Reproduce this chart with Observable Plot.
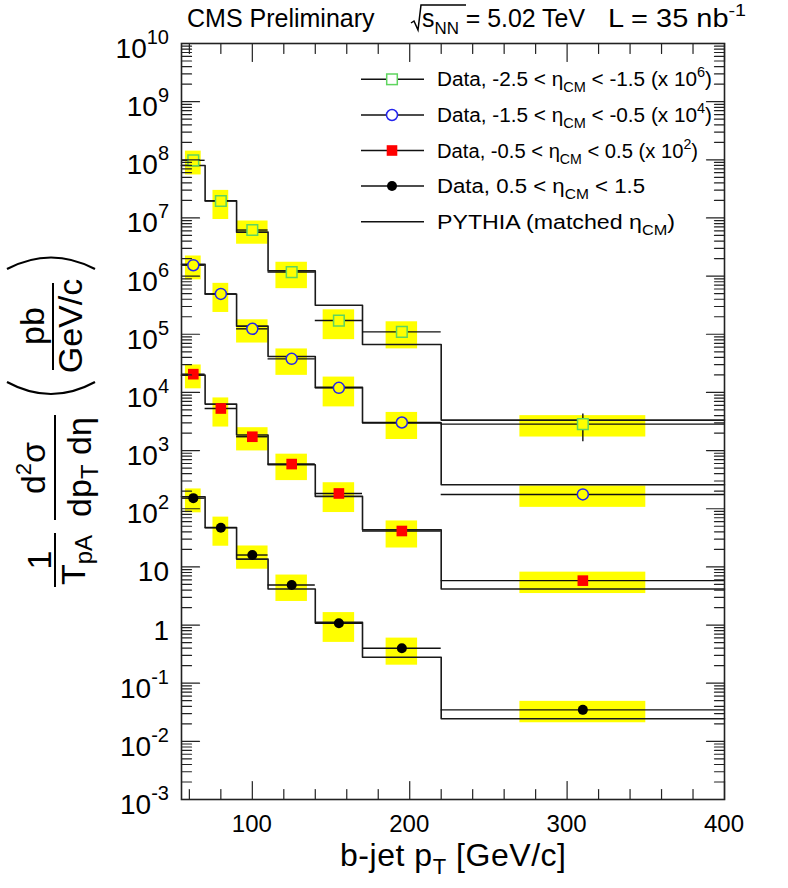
<!DOCTYPE html>
<html>
<head>
<meta charset="utf-8">
<script src="https://cdn.jsdelivr.net/npm/d3@7"></script>
<script src="https://cdn.jsdelivr.net/npm/@observablehq/plot@0.6"></script>
<style>
  html, body { margin: 0; padding: 0; background: #fff; }
  #chart { width: 788px; height: 888px; }
</style>
</head>
<body>
<div id="chart"></div>
<script>
// ---------------- data ----------------
const binLo = [55, 70, 90, 110, 140, 170, 220];
const binHi = [70, 90, 110, 140, 170, 220, 400];
const binCenter = [62.5, 80, 100, 125, 155, 195, 310];
const sysHalfWidth = [5, 5, 10, 10, 10, 10, 40];
const sysRel = [0.44, 0.52, 0.43, 0.48, 0.53, 0.49, 0.40];

const seriesKeys = ["m25", "m15", "m05", "p05"];

// measured cross sections (already multiplied by the scale factors)
const dataM25 = [9.8e7, 1.96e7, 6.2e6, 1.17e6, 1.72e5, 1.1e5, 2.85e3];
const dataM15 = [1.54e6, 4.94e5, 1.24e5, 3.78e4, 1.2e4, 3.04e3, 176];
const dataM05 = [2.06e4, 5.29e3, 1.73e3, 586, 183, 41.4, 5.8];
const dataP05 = [152, 47.2, 16.0, 4.89, 1.07, 0.40, 0.0348];

// relative statistical uncertainties
const statM25 = [0.03, 0.04, 0.05, 0.07, 0.12, 0.15, 0.5];
const statM15 = [0.02, 0.03, 0.04, 0.05, 0.07, 0.10, 0.18];
const statM05 = [0.02, 0.03, 0.04, 0.05, 0.07, 0.10, 0.18];
const statP05 = [0.02, 0.03, 0.04, 0.05, 0.07, 0.10, 0.18];

// PYTHIA histograms (matched eta_CM, same scale factors)
const mcM25 = [8.0e7, 1.98e7, 5.7e6, 1.23e6, 3.16e5, 6.66e4, 3.34e3];
const mcM15 = [1.6e6, 4.94e5, 1.38e5, 4.14e4, 1.22e4, 3.0e3, 258];
const mcM05 = [1.98e4, 6.3e3, 1.85e3, 570, 163, 43.5, 4.17];
const mcP05 = [161, 47.5, 13.6, 4.17, 1.11, 0.279, 0.0244];

const xMajorTicks = [100, 200, 300, 400];
const xMinorTicks = [60, 80, 120, 140, 160, 180, 220, 240, 260, 280, 320, 340, 360, 380];
const yDecades = [-3, -2, -1, 0, 1, 2, 3, 4, 5, 6, 7, 8, 9, 10];
const yMinorMantissas = [2, 3, 4, 5, 6, 7, 8, 9];

// ---------------- build tables ----------------
const dataVals = [dataM25, dataM15, dataM05, dataP05];
const statVals = [statM25, statM15, statM05, statP05];
const mcVals = [mcM25, mcM15, mcM05, mcP05];

const rows = [];
seriesKeys.forEach((k, s) => {
  dataVals[s].forEach((v, i) => {
    rows.push({
      k, v,
      lo: binLo[i], hi: binHi[i], c: binCenter[i],
      bx1: binCenter[i] - sysHalfWidth[i], bx2: binCenter[i] + sysHalfWidth[i],
      sLo: v * (1 - sysRel[i]), sHi: v * (1 + sysRel[i]),
      eLo: v * (1 - statVals[s][i]), eHi: v * (1 + statVals[s][i])
    });
  });
});
const mcPts = [];
seriesKeys.forEach((k, s) => {
  mcVals[s].forEach((v, i) => mcPts.push({k, x: binLo[i], y: v}));
  mcPts.push({k, x: binHi[binHi.length - 1], y: mcVals[s][mcVals[s].length - 1]});
});
const yMajor = yDecades.map(d => Math.pow(10, d));
const yMinor = [];
yDecades.slice(0, -1).forEach(d => yMinorMantissas.forEach(m => yMinor.push(m * Math.pow(10, d))));

const greenC = "#5fd55f", blueC = "#2424ee", redC = "#ff0000", yellowC = "#ffff00";
const FONT = "'Liberation Sans', Arial, Helvetica, sans-serif";
const tickShape = {draw(ctx, l) { ctx.moveTo(0, 0); ctx.lineTo(0, -l); }};
const tk = {stroke: "#222", strokeWidth: 1.2, anchor: "start", shape: tickShape};

const plot = Plot.plot({
  width: 788, height: 888,
  marginLeft: 181, marginRight: 64, marginTop: 43, marginBottom: 89,
  x: {domain: [55, 400], axis: null},
  y: {type: "log", domain: [1e-3, 1e10], axis: null},
  style: {fontFamily: FONT, background: "white"},
  marks: [
    Plot.rect(rows, {x1: "bx1", x2: "bx2", y1: "sLo", y2: "sHi", fill: yellowC}),
    Plot.line(mcPts, {x: "x", y: "y", z: "k", curve: "step-after", stroke: "#1a1a1a", strokeWidth: 1.6}),
    Plot.ruleY(rows, {y: "v", x1: "lo", x2: "hi", stroke: "#111", strokeWidth: 1.4}),
    Plot.ruleX(rows, {x: "c", y1: "eLo", y2: "eHi", stroke: "#111", strokeWidth: 1.4}),
    Plot.dot(rows.filter(d => d.k === "m25"), {x: "c", y: "v", symbol: "square", r: 6, stroke: greenC, strokeWidth: 1.5, fill: yellowC}),
    Plot.dot(rows.filter(d => d.k === "m15"), {x: "c", y: "v", symbol: "circle", r: 5.5, stroke: blueC, strokeWidth: 1.5, fill: yellowC}),
    Plot.dot(rows.filter(d => d.k === "m05"), {x: "c", y: "v", symbol: "square", r: 6, fill: redC, stroke: "none"}),
    Plot.dot(rows.filter(d => d.k === "p05"), {x: "c", y: "v", symbol: "circle", r: 5, fill: "black", stroke: "none"}),
    // inward ROOT-style ticks on all four sides
    Plot.vector(yMajor, {y: d => d, frameAnchor: "left", rotate: 90, length: 18, ...tk}),
    Plot.vector(yMinor, {y: d => d, frameAnchor: "left", rotate: 90, length: 10, ...tk}),
    Plot.vector(yMajor, {y: d => d, frameAnchor: "right", rotate: -90, length: 18, ...tk}),
    Plot.vector(yMinor, {y: d => d, frameAnchor: "right", rotate: -90, length: 10, ...tk}),
    Plot.vector(xMajorTicks, {x: d => d, frameAnchor: "bottom", rotate: 0, length: 18, ...tk}),
    Plot.vector(xMinorTicks, {x: d => d, frameAnchor: "bottom", rotate: 0, length: 10, ...tk}),
    Plot.vector(xMajorTicks, {x: d => d, frameAnchor: "top", rotate: 180, length: 18, ...tk}),
    Plot.vector(xMinorTicks, {x: d => d, frameAnchor: "top", rotate: 180, length: 10, ...tk}),
    Plot.frame({stroke: "#222", strokeWidth: 1.6})
  ]
});
document.getElementById("chart").appendChild(plot);

// ---------------- text, labels, legend ----------------
const svg = d3.select(plot);
const xs = plot.scale("x"), ys = plot.scale("y");
const g = svg.append("g").attr("font-family", FONT).attr("fill", "black").attr("text-anchor", "start");

// y tick labels
yDecades.forEach(d => {
  const py = ys.apply(Math.pow(10, d));
  const t = g.append("text").attr("x", 169).attr("y", py + 15).attr("text-anchor", "end").attr("font-size", 28);
  if (d === 0) t.text("1");
  else if (d === 1) t.text("10");
  else {
    t.append("tspan").text("10");
    t.append("tspan").attr("font-size", 20).attr("dy", -14).text(String(d));
  }
});
// x tick labels
xMajorTicks.forEach(v => {
  g.append("text").attr("x", xs.apply(v)).attr("y", 832).attr("text-anchor", "middle").attr("font-size", 24).text(String(v));
});
// x axis title
{
  const t = g.append("text").attr("x", 340).attr("y", 866).attr("font-size", 32)
    .attr("textLength", 226).attr("lengthAdjust", "spacing");
  t.append("tspan").text("b-jet p");
  t.append("tspan").attr("font-size", 22).attr("dy", 8).text("T");
  t.append("tspan").attr("dy", -8).text(" [GeV/c]");
}
// y axis title (rotated)
function rot(x, y) { return g.append("text").attr("transform", `translate(${x},${y}) rotate(-90)`).attr("text-anchor", "middle").attr("font-size", 34); }
function bar(x, y1, y2) { g.append("line").attr("x1", x).attr("x2", x).attr("y1", y1).attr("y2", y2).attr("stroke", "black").attr("stroke-width", 2); }
// 1 / T_pA
rot(51, 560).text("1");
bar(55, 533, 587);
{ const t = rot(85, 560); t.append("tspan").text("T"); t.append("tspan").attr("font-size", 24).attr("dy", 7).text("pA"); }
// d2sigma / dpT deta
{ const t = rot(45, 468); t.append("tspan").text("d"); t.append("tspan").attr("font-size", 22).attr("dy", -14).text("2"); t.append("tspan").attr("dy", 14).text("σ"); }
bar(55, 415, 520);
{ const t = rot(91, 467); t.append("tspan").text("dp"); t.append("tspan").attr("font-size", 24).attr("dy", 7).text("T"); t.append("tspan").attr("dy", -7).text(" dη"); }
// (pb / GeV/c)
rot(44, 326).text("pb");
bar(53, 283, 370);
rot(82, 326).text("GeV/c");
g.append("path").attr("d", "M7,269 Q51,246 95,269").attr("fill", "none").attr("stroke", "black").attr("stroke-width", 2.2);
g.append("path").attr("d", "M7,382 Q51,406 95,382").attr("fill", "none").attr("stroke", "black").attr("stroke-width", 2.2);

// header
g.append("text").attr("x", 187).attr("y", 27).attr("font-size", 25).text("CMS Preliminary");
g.append("path").attr("d", "M411,23 L414,21 L418,30 L421,5 L466,5").attr("fill", "none").attr("stroke", "black").attr("stroke-width", 1.5);
{
  const t = g.append("text").attr("x", 422).attr("y", 27).attr("font-size", 25)
    .attr("textLength", 163).attr("lengthAdjust", "spacingAndGlyphs");
  t.append("tspan").text("s");
  t.append("tspan").attr("font-size", 17).attr("dy", 7).text("NN");
  t.append("tspan").attr("dy", -7).text(" = 5.02 TeV");
}
{
  const t = g.append("text").attr("x", 608).attr("y", 27).attr("font-size", 25)
    .attr("textLength", 138).attr("lengthAdjust", "spacingAndGlyphs");
  t.append("tspan").text("L = 35 nb");
  t.append("tspan").attr("font-size", 17).attr("dy", -11).text("-1");
}

// legend
const legRows = [79.3, 115, 150.5, 186, 221.7];
const legWidths = [275, 275, 261, 208, 238];
const legText = [
  ["Data, -2.5 < η", "CM", " < -1.5 (x 10", "6", ")"],
  ["Data, -1.5 < η", "CM", " < -0.5 (x 10", "4", ")"],
  ["Data, -0.5 < η", "CM", " < 0.5 (x 10", "2", ")"],
  ["Data, 0.5 < η", "CM", " < 1.5"],
  ["PYTHIA (matched η", "CM", ")"]
];
legRows.forEach((ly, r) => {
  g.append("line").attr("x1", 361).attr("x2", 424).attr("y1", ly).attr("y2", ly).attr("stroke", "#111").attr("stroke-width", 1.5);
  const mx = 392;
  if (r === 0) g.append("rect").attr("x", mx - 5.3).attr("y", ly - 5.3).attr("width", 10.6).attr("height", 10.6).attr("fill", "white").attr("stroke", greenC).attr("stroke-width", 1.5);
  if (r === 1) g.append("circle").attr("cx", mx).attr("cy", ly).attr("r", 5.5).attr("fill", "white").attr("stroke", blueC).attr("stroke-width", 1.5);
  if (r === 2) g.append("rect").attr("x", mx - 5.3).attr("y", ly - 5.3).attr("width", 10.6).attr("height", 10.6).attr("fill", redC);
  if (r === 3) g.append("circle").attr("cx", mx).attr("cy", ly).attr("r", 5).attr("fill", "black");
  const parts = legText[r];
  const t = g.append("text").attr("x", 437).attr("y", ly + 7).attr("font-size", 20)
    .attr("textLength", legWidths[r]).attr("lengthAdjust", "spacingAndGlyphs");
  t.append("tspan").text(parts[0]);
  t.append("tspan").attr("font-size", 14).attr("dy", 6).text(parts[1]);
  if (parts.length > 2) t.append("tspan").attr("dy", -6).text(parts[2]);
  if (parts.length > 3) {
    t.append("tspan").attr("font-size", 14).attr("dy", -9).text(parts[3]);
    t.append("tspan").attr("dy", 9).text(parts[4]);
  }
});
</script>
</body>
</html>
